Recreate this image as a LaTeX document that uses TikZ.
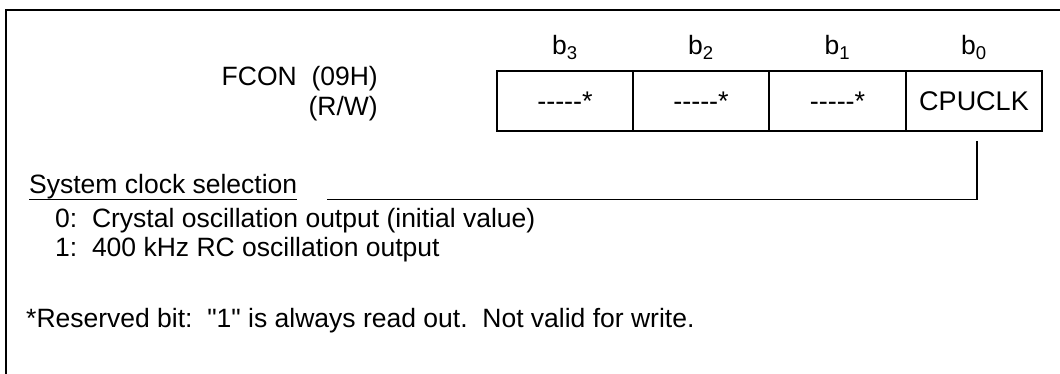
\documentclass[tikz,border=0pt]{standalone}
\usepackage{fontspec}
\setmainfont{Liberation Sans}[Ligatures=TeXOff]
\begin{document}
\begin{tikzpicture}[x=1pt,y=-1pt,
  txt/.style={inner sep=0pt, font=\fontsize{26.5}{31}\selectfont},
  cell/.style={draw, line width=1.3pt, minimum width=136pt, minimum height=60pt,
    inner sep=0pt, text height=19.3pt, text depth=0pt, font=\fontsize{27}{31}\selectfont},
  frame/.style={line width=1.6pt},
  conn/.style={line width=1.5pt}]
\useasboundingbox (0,0) rectangle (1060,374);
% frame
\coordinate (ftl) at (6,10);
\coordinate (ftr) at (1062,10);
\coordinate (fbl) at (6,376);
\draw[frame] (ftr) -- (ftl) -- (fbl);
% register title
\node[txt, anchor=base east] (fcon) at (378,86) {FCON\ \ (09H)};
\node[txt, anchor=base east] (rw) at (378,116) {(R/W)};
% bit labels
\node[txt, anchor=base] (l3) at (565,55) {b\textsubscript{3}};
\node[txt, anchor=base] (l2) at (701,55) {b\textsubscript{2}};
\node[txt, anchor=base] (l1) at (837.5,55) {b\textsubscript{1}};
\node[txt, anchor=base] (l0) at (974,55) {b\textsubscript{0}};
% cells
\node[cell] (c3) at (565,101) {-{}-{}-{}-{}-*};
\node[cell] (c2) at (701,101) {-{}-{}-{}-{}-*};
\node[cell, minimum width=137pt] (c1) at (837.5,101) {-{}-{}-{}-{}-*};
\node[cell] (c0) at (974,101) {CPUCLK};
% description
\node[txt, anchor=base west] (sys) at (29,194) {System clock selection};
\draw[line width=1.3pt] (sys.south west) -- (sys.south east);
\coordinate (cs) at (977,141);
\draw[conn] (cs) |- ([xshift=30pt]sys.south east);
\node[txt, anchor=base west] (o0) at (55,228) {0:\ \ Crystal oscillation output (initial value)};
\node[txt, anchor=base west] (o1) at (55,256) {1:\ \ 400 kHz RC oscillation output};
\node[txt, anchor=base west] (res) at (26,327) {*Reserved bit:\ \ "1" is always read out.\ \ Not valid for write.};
\end{tikzpicture}
\end{document}
